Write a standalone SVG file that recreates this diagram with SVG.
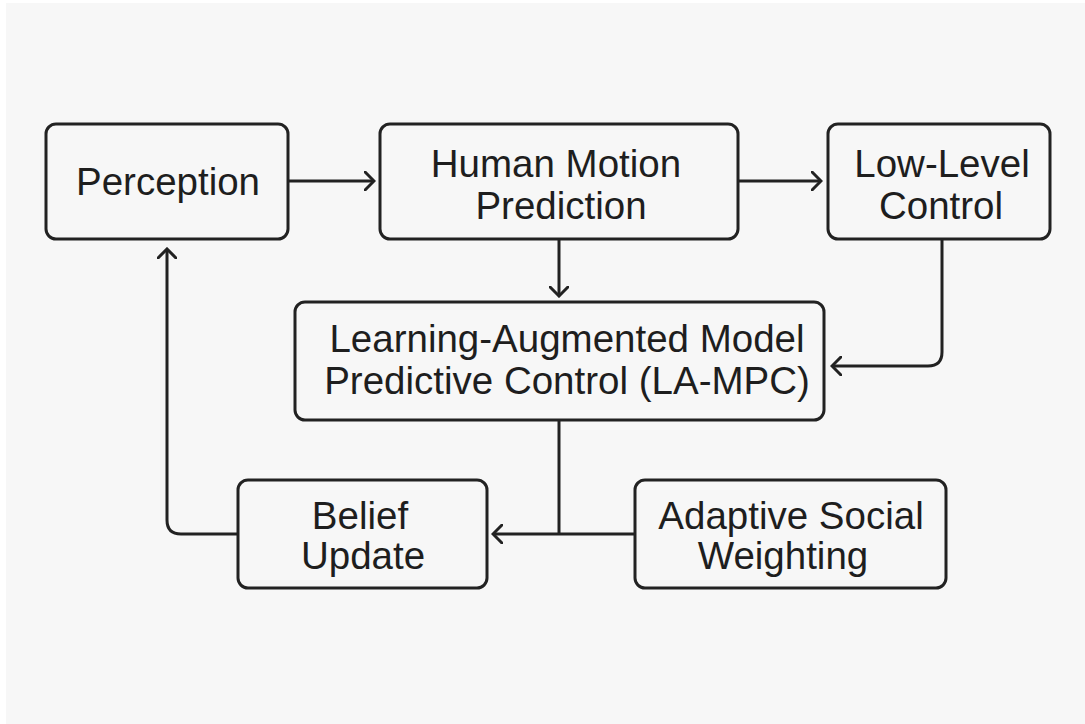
<svg xmlns="http://www.w3.org/2000/svg" width="1085" height="724" viewBox="0 0 1085 724">
<defs>
<style>
.box{fill:#f7f7f7;stroke:#222;stroke-width:3}
.t{font-family:"Liberation Sans",Arial,sans-serif;font-size:38.5px;fill:#1e1e1e;text-anchor:middle}
.c{fill:none;stroke:#222;stroke-width:3;stroke-linejoin:round}
</style>
<marker id="ah" viewBox="0 0 12 20" refX="10" refY="10" markerWidth="12" markerHeight="20" markerUnits="userSpaceOnUse" orient="auto">
<path d="M1,1 L10,10 L1,19" fill="none" stroke="#222" stroke-width="3" stroke-linecap="round" stroke-linejoin="miter"/>
</marker>
</defs>
<rect width="1085" height="724" fill="#ffffff"/>
<rect x="6" y="3" width="1079" height="721" fill="#f7f7f7"/>
<g id="connectors">
<path class="c" d="M288,181 H374" marker-end="url(#ah)"/>
<path class="c" d="M738,181 H821" marker-end="url(#ah)"/>
<path class="c" d="M559,239 V296" marker-end="url(#ah)"/>
<path class="c" d="M942,239 V352 Q942,366 928,366 H832" marker-end="url(#ah)"/>
<path class="c" d="M559,420 V534"/>
<path class="c" d="M635,534 H493" marker-end="url(#ah)"/>
<path class="c" d="M238,534 H181 Q167,534 167,520 V249" marker-end="url(#ah)"/>
</g>
<g id="perception">
<rect class="box" x="46" y="124" width="242" height="115" rx="10"/>
<text class="t" x="168" y="195">Perception</text>
</g>
<g id="human-motion-prediction">
<rect class="box" x="380" y="124" width="358" height="115" rx="10"/>
<text class="t" x="556" y="177">Human Motion</text>
<text class="t" x="561" y="219">Prediction</text>
</g>
<g id="low-level-control">
<rect class="box" x="828" y="124" width="222" height="115" rx="10"/>
<text class="t" x="942" y="177">Low-Level</text>
<text class="t" x="941" y="219">Control</text>
</g>
<g id="la-mpc">
<rect class="box" x="295" y="302" width="529" height="118" rx="10"/>
<text class="t" x="567" y="352">Learning-Augmented Model</text>
<text class="t" x="567" y="394">Predictive Control (LA-MPC)</text>
</g>
<g id="belief-update">
<rect class="box" x="238" y="480" width="249" height="108" rx="10"/>
<text class="t" x="360" y="529">Belief</text>
<text class="t" x="363" y="569">Update</text>
</g>
<g id="adaptive-social-weighting">
<rect class="box" x="635" y="480" width="311" height="108" rx="10"/>
<text class="t" x="791" y="529">Adaptive Social</text>
<text class="t" x="783" y="569">Weighting</text>
</g>
</svg>
